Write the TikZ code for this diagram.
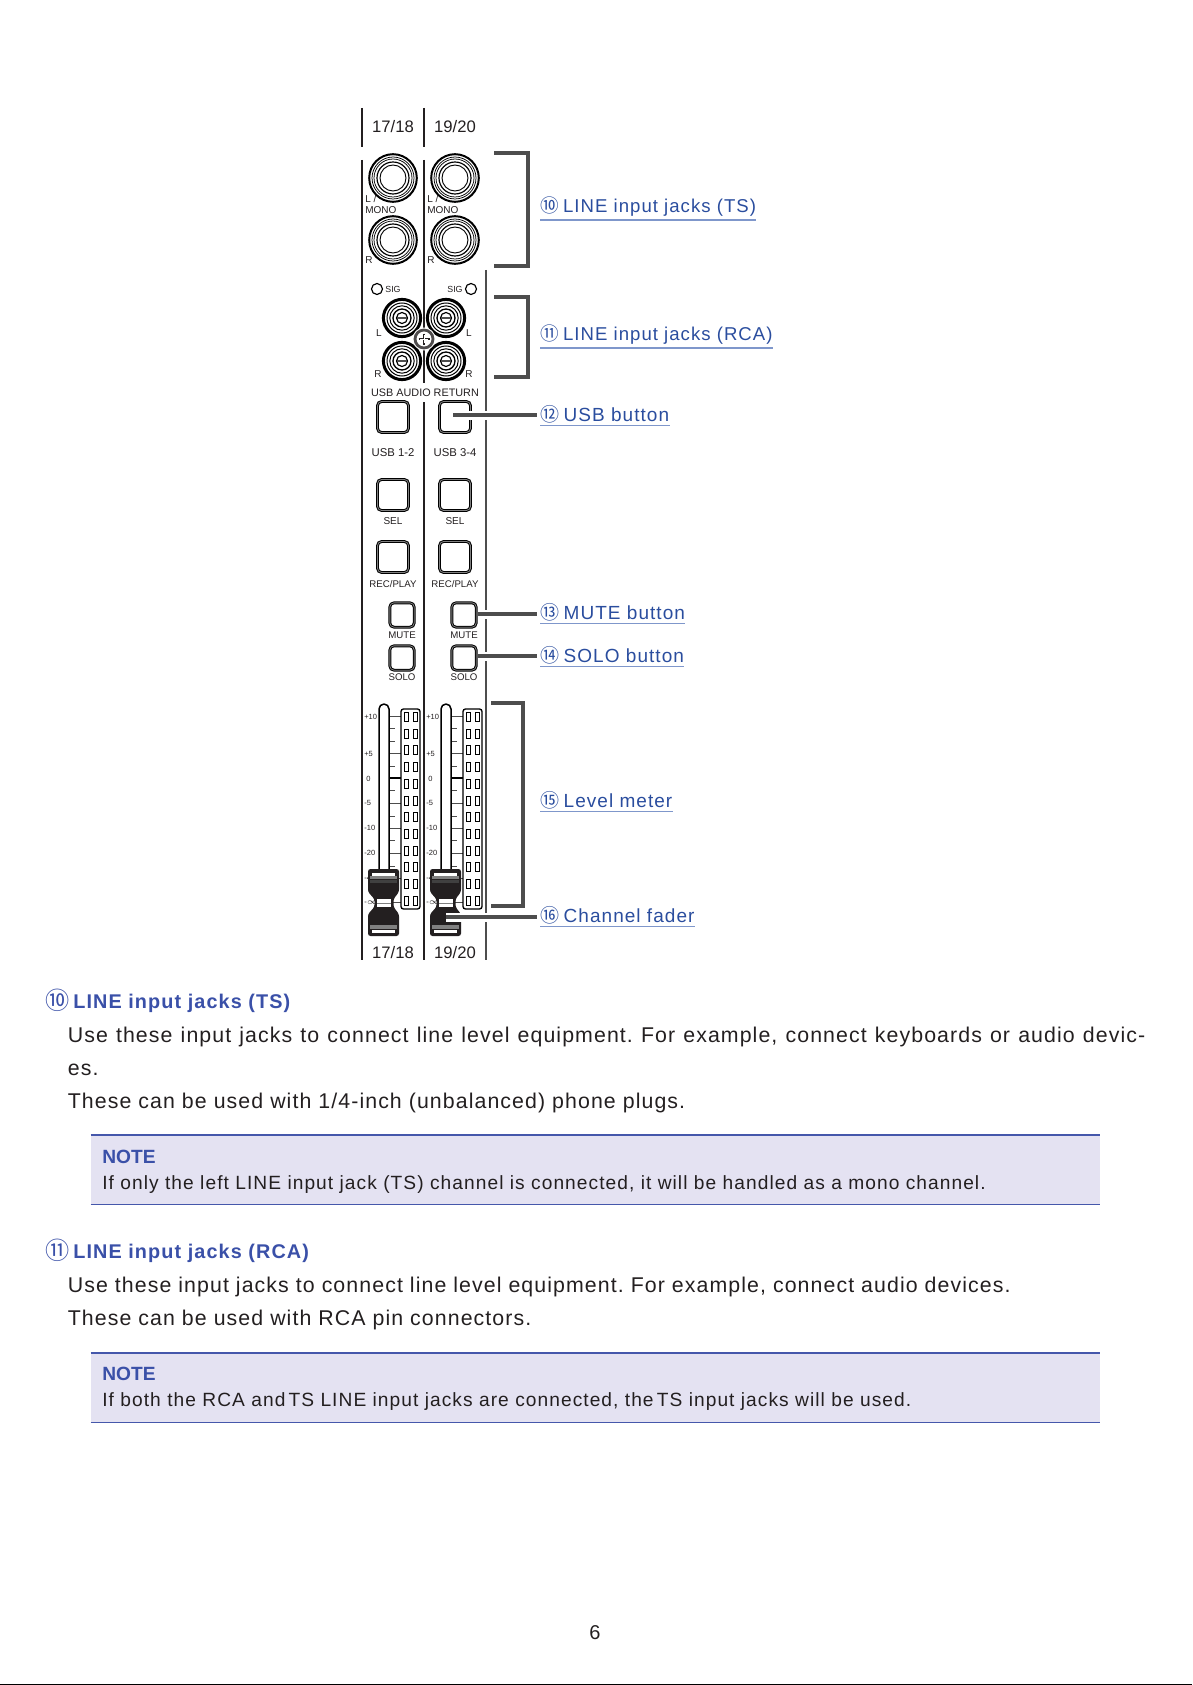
\documentclass[tikz,border=0pt]{standalone}
\usepackage{fontspec}
\setmainfont{Liberation Sans}
\newfontfamily\bodyfont{Liberation Sans}[LetterSpace=5.05]
\newfontfamily\widefont{Liberation Sans}[LetterSpace=5.5]
\newfontfamily\circfont{Noto Sans CJK JP}
\definecolor{linkblue}{HTML}{2A4D9E}
\definecolor{underblue}{HTML}{7F97CB}
\definecolor{headblue}{HTML}{3A50A8}
\definecolor{notefill}{HTML}{E4E2F2}
\definecolor{notelinec}{HTML}{4557AB}
\definecolor{inkc}{HTML}{231F20}
\definecolor{leadc}{HTML}{4D4D4D}

\begin{document}
\frenchspacing
\begin{tikzpicture}[
		x=0.6pt, y=-0.6pt,
		strip/.style={line width=1.2pt, draw=inkc},
		stripthin/.style={line width=0.9pt, draw=leadc},
		bracket/.style={line width=2.1pt, draw=leadc, miter limit=10},
		leader/.style={line width=2.1pt, draw=leadc, shorten >=1.8pt,
			preaction={draw=white, line width=5.4pt}},
		bigbtn/.style={draw=black, double=gray, line width=0.6pt, double distance=0.5pt,
			rounded corners=2.5pt, minimum size=18.6pt, inner sep=0, fill=white},
		smallbtn/.style={bigbtn, minimum size=14.6pt},
		panel/.style={font=\fontsize{6}{6}\selectfont, text=inkc, inner sep=0},
		chan/.style={font=\fontsize{10}{10}\selectfont, text=inkc, inner sep=0},
		scalelbl/.style={font=\fontsize{4.5}{4.5}\selectfont, text=inkc, inner sep=0, anchor=west},
		link/.style={font=\fontsize{11.4}{12}\widefont, text=linkblue, inner xsep=0, inner ysep=1.6pt, anchor=base west},
		linkline/.style={draw=underblue, line width=1pt},
		headtxt/.style={font=\fontsize{11.9}{14}\bfseries\widefont, text=headblue, inner sep=0, anchor=base west},
		headnum/.style={font=\fontsize{14.5}{15}\circfont, text=headblue, inner sep=0, anchor=base west},
		bodytxt/.style={font=\fontsize{12.8}{14}\bodyfont, text=inkc, inner sep=0, anchor=base west},
		notetxt/.style={font=\fontsize{11.5}{13}\widefont, text=inkc, inner sep=0, anchor=base west},
		notehead/.style={font=\fontsize{11.5}{13}\bfseries\selectfont, text=headblue, inner sep=0, anchor=base west},
		notebox/.style={fill=notefill, minimum width=605.4pt, minimum height=41.4pt, inner sep=0},
		noteline/.style={draw=notelinec, line width=1pt},
		]
		
		\useasboundingbox (0,0) rectangle (1192,1685);
		\fill[black] (0,1683.5) rectangle (1192,1685);
		
		% channel strip lines
		\draw[strip] (362,108) -- (362,147);
		\draw[strip] (424,108) -- (424,147);
		\draw[strip] (362,160) -- (362,960);
		\draw[strip] (424,160) -- (424,383);
		\draw[strip] (424,402) -- (424,960);
		\draw[stripthin] (486,270) -- (486,960);
		
		\node[chan] (top1718) at (393,127) {17/18};
		\node[chan] (top1920) at (455,127) {19/20};
		\node[chan] (bot1718) at (393,953) {17/18};
		\node[chan] (bot1920) at (455,953) {19/20};
		
		% TS jacks
		\foreach \jx/\jy/\jn in {393/178/a, 455/178/b, 393/240/c, 455/240/d} {
			\coordinate (ts\jn) at (\jx,\jy);
			\draw[line width=1.2pt] (ts\jn) circle (23.8);
			\foreach \jr in {21, 19} \draw[line width=0.45pt] (ts\jn) circle (\jr);
			\draw[line width=0.7pt] (ts\jn) circle (16);
			\draw[line width=0.55pt] (ts\jn) circle (13);
		}
		\node[panel, anchor=west] (lmonoa) at (365,199) {L /};
		\node[panel, anchor=west] (monoa)  at (365,210) {MONO};
		\node[panel, anchor=west] (ra)     at (365,260) {R};
		\node[panel, anchor=west] (lmonob) at (427,199) {L /};
		\node[panel, anchor=west] (monob)  at (427,210) {MONO};
		\node[panel, anchor=west] (rb)     at (427,260) {R};
		
		% SIG and RCA jacks
		\draw[line width=0.7pt] (377,289) circle (5.5);
		\draw[line width=0.7pt] (471,289) circle (5.5);
		\node[panel, font=\fontsize{5.3}{5}\selectfont] (siga) at (393,289) {SIG};
		\node[panel, font=\fontsize{5.3}{5}\selectfont] (sigb) at (455,289) {SIG};
		\foreach \jx/\jy/\jn in {402/318/a, 446/318/b, 402/361/c, 446/361/d} {
			\coordinate (rca\jn) at (\jx,\jy);
			\draw[line width=1.8pt] (rca\jn) circle (18.6);
			\foreach \jr in {15, 12.2} \draw[line width=0.6pt] (rca\jn) circle (\jr);
			\draw[line width=0.8pt] (rca\jn) circle (9);
			\draw[line width=0.7pt] (rca\jn) circle (5.5);
			\fill[leadc] (\jx-5,\jy-1.3) rectangle (\jx+5,\jy+1.3);
		}
		\node[panel] (la) at (379,333) {L};
		\node[panel] (lb) at (469,333) {L};
		\node[panel] (rrcaa) at (378,374) {R};
		\node[panel] (rrcab) at (469,374) {R};
		\fill[white] (424,339) circle (11.5);
		\draw[line width=1.7pt, draw=inkc!80] (424,339) circle (9);
		\draw[line width=1.2pt, draw=inkc] (418.5,339) -- (429.5,339) (424,333.5) -- (424,344.5);
		\draw[line width=0.5pt, draw=white] (420,339) -- (428,339) (424,335) -- (424,343);
		
		\node[panel, font=\fontsize{6.5}{7}\selectfont] (usbret) at (425,393) {USB AUDIO RETURN};
		
		% buttons
		\foreach \cx/\cn/\un in {0/a/USB 1-2, 62/b/USB 3-4} {
			\node[bigbtn] (usb\cn) at (\cx+393,417) {};
			\node[panel, font=\fontsize{6.8}{7}\selectfont] (usbl\cn) at (\cx+393,453) {\un};
			\node[bigbtn] (sel\cn) at (\cx+393,495) {};
			\node[panel] (sell\cn) at (\cx+393,521) {SEL};
			\node[bigbtn] (rec\cn) at (\cx+393,557) {};
			\node[panel, font=\fontsize{5.8}{6}\selectfont] (recl\cn) at (\cx+393,584) {REC/PLAY};
			\node[smallbtn] (mute\cn) at (\cx+402,615) {};
			\node[panel, font=\fontsize{5.8}{6}\selectfont] (mutel\cn) at (\cx+402,635) {MUTE};
			\node[smallbtn] (solo\cn) at (\cx+402,658) {};
			\node[panel, font=\fontsize{5.8}{6}\selectfont] (solol\cn) at (\cx+402,677) {SOLO};
		}
		
		% level meters and faders
		\foreach \cx/\cn in {0/a, 62/b} {
			\foreach \ty/\tx in {716/401, 728/395, 741/395, 753/401, 766/395, 790/395, 803/401, 816/395, 828/401, 840/395, 853/401, 866/395, 878/401, 890/395, 902/401}
				\draw[line width=0.45pt, draw=leadc] (\cx+389,\ty) -- (\cx+\tx,\ty);
			\draw[line width=1.1pt] (\cx+389,778) -- (\cx+401,778);
			\draw[line width=0.9pt, rounded corners=3pt, fill=white] (\cx+379,872) -- (\cx+379,704) -- (\cx+389,704) -- (\cx+389,872);
			\draw[line width=0.8pt, rounded corners=1.5pt, fill=white] (\cx+401,709) rectangle (\cx+420,909);
			\foreach \ly in {717,733.7,...,902} {
				\draw[line width=0.6pt] (\cx+404,\ly-4.5) rectangle (\cx+408,\ly+4.5);
				\draw[line width=0.6pt] (\cx+413,\ly-4.5) rectangle (\cx+417,\ly+4.5);
			}
			\node[scalelbl] (sp\cn) at (\cx+364,717) {+10};
			\node[scalelbl] (sf\cn) at (\cx+364,754) {+5};
			\node[scalelbl] (sz\cn) at (\cx+366,779) {0};
			\node[scalelbl] (sm\cn) at (\cx+364,803) {-5};
			\node[scalelbl] (st\cn) at (\cx+364,828) {-10};
			\node[scalelbl] (su\cn) at (\cx+364,853) {-20};
			\node[scalelbl] (sq\cn) at (\cx+364,878) {-40};
			\node[scalelbl] (si\cn) at (\cx+364,903) {-$\infty$};
			% fader knob
			\fill[inkc, rounded corners=1.5pt] (\cx+368,869) -- (\cx+399,869) -- (\cx+399,892) -- (\cx+393.5,899) -- (\cx+393.5,907) -- (\cx+399,914) -- (\cx+399,936) -- (\cx+368,936) -- (\cx+368,914) -- (\cx+374.5,907) -- (\cx+374.5,899) -- (\cx+368,892) -- cycle;
			\fill[white] (\cx+372,872.5) rectangle (\cx+395,875.5);
			\fill[gray] (\cx+370,876) rectangle (\cx+397,879);
			\fill[gray!50!black] (\cx+370,880) rectangle (\cx+397,883);
			\fill[white] (\cx+377,899) rectangle (\cx+391,907);
			\draw[line width=0.4pt, draw=gray] (\cx+377,903) -- (\cx+391,903);
			\fill[gray] (\cx+370,925) rectangle (\cx+397,929);
			\fill[white] (\cx+372,929.5) rectangle (\cx+395,933);
			\coordinate (knob\cn) at (\cx+384,917);
		}
		
		% brackets
		\draw[bracket] (494,153) -| (528,266) -- (494,266);
		\draw[bracket] (494,297) -| (528,377) -- (494,377);
		\draw[bracket] (491,703) -| (523,906) -- (491,906);
		
		% link labels
		\node[link, font=\fontsize{11.15}{12}\widefont] (lbl10) at (540,213) {{\circfont ⑩}\kern-1.2pt\ LINE input jacks (TS)};
		\node[link, font=\fontsize{11.15}{12}\widefont] (lbl11) at (540,341) {{\circfont ⑪}\kern-1.2pt\ LINE input jacks (RCA)};
		\node[link] (lbl12) at (540,421) {{\circfont ⑫}\kern-1.2pt\ USB button};
		\node[link] (lbl13) at (540,619) {{\circfont ⑬}\kern-1.2pt\ MUTE button};
		\node[link] (lbl14) at (540,662) {{\circfont ⑭}\kern-1.2pt\ SOLO button};
		\node[link] (lbl15) at (540,807) {{\circfont ⑮}\kern-1.2pt\ Level meter};
		\node[link] (lbl16) at (540,922) {{\circfont ⑯}\kern-1.2pt\ Channel fader};
		\foreach \ln in {10,...,16}
			\draw[linkline] (lbl\ln.south west) -- (lbl\ln.south east);
		
		% leaders
		\coordinate (usbtap) at (453,415);
		\coordinate (mutetap) at (478,614);
		\coordinate (solotap) at (478,656);
		\coordinate (fadertap) at (446,917);
		\draw[leader] (usbtap) -- (usbtap -| lbl12.west);
		\draw[leader] (mutetap) -- (mutetap -| lbl13.west);
		\draw[leader] (solotap) -- (solotap -| lbl14.west);
		\draw[leader] (fadertap) -- (fadertap -| lbl16.west);
		
		% text
		\node[headtxt] (head10) at (73,1008) {LINE input jacks (TS)};
		\node[headnum] (num10) at (45,1009) {⑩};
		\node[bodytxt] (tsa) at (67.5,1042) {\hbox to 646.5pt{\spaceskip=4.2pt plus 1fil\relax Use these input jacks to connect line level equipment. For example, connect keyboards or audio devic-}};
		\node[bodytxt] (tsb) at (67.5,1075) {es.};
		\node[bodytxt] (tsc) at (67.5,1108) {These can be used with 1/4-inch (unbalanced) phone plugs.};
		
		\node[notebox] (note10) at (595.5,1169.5) {};
		\draw[noteline] (note10.north west) -- (note10.north east);
		\draw[noteline] (note10.south west) -- (note10.south east);
		\node[notehead] (noteh10) at (102,1163) {NOTE};
		\node[notetxt] (notet10) at (102,1189) {If only the left LINE input jack (TS) channel is connected, it will be handled as a mono channel.};
		
		\node[headtxt] (head11) at (73,1258) {LINE input jacks (RCA)};
		\node[headnum] (num11) at (45,1259) {⑪};
		\node[bodytxt] (rcaa) at (67.5,1292) {Use these input jacks to connect line level equipment. For example, connect audio devices.};
		\node[bodytxt] (rcab) at (67.5,1325) {These can be used with RCA pin connectors.};
		
		\node[notebox] (note11) at (595.5,1387.5) {};
		\draw[noteline] (note11.north west) -- (note11.north east);
		\draw[noteline] (note11.south west) -- (note11.south east);
		\node[notehead] (noteh11) at (102,1380) {NOTE};
		\node[notetxt] (notet11) at (102,1406) {If both the RCA and\,TS LINE input jacks are connected, the\,TS input jacks will be used.};
		
		\node[font=\fontsize{12}{14}\selectfont, text=inkc, inner sep=0] (pageno) at (595,1633) {6};
		
	\end{tikzpicture}
\end{document}
